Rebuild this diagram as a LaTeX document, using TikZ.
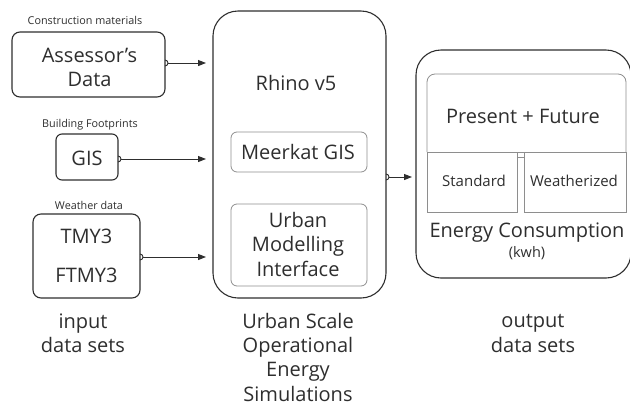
\documentclass[tikz,border=0pt]{standalone}
\usepackage{fontspec}
\setmainfont{Open Sans}
\usetikzlibrary{arrows.meta}
\definecolor{ink}{HTML}{2E2E2E}
\definecolor{soft}{HTML}{8E8E8E}
\begin{document}
\begin{tikzpicture}[x=1pt,y=-1pt,
  every node/.style={text=ink, inner sep=0pt, outer sep=0pt},
  box/.style={draw=ink, line width=1.1pt, rounded corners=#1},
  box/.default=8pt,
  sub/.style={draw=soft, line width=0.8pt},
  big/.style={font=\fontsize{20}{24.5}\selectfont, align=center},
  bigline/.style={font=\fontsize{20}{24.5}\selectfont, anchor=base},
  mid/.style={font=\fontsize{15}{18}\selectfont},
  small/.style={font=\fontsize{10.8}{13}\selectfont},
  link/.style={draw=ink, line width=1pt, -{Triangle[length=8pt,width=6pt]}},
  hop/.style={draw=ink, line width=0.9pt}
]
\useasboundingbox (0,0) rectangle (630,405);

% input boxes
\node[box, minimum width=153pt, minimum height=65pt] (ass) at (88.5,64.5) {};
\node[big] (asst) at (89.5,67.5) {Assessor’s\\Data};
\node[small] (cml) at (85,20) {Construction materials};

\node[box=6pt, minimum width=62pt, minimum height=46pt] (gis) at (87,157) {};
\node[big] (gist) at (87,158) {GIS};
\node[small] (bfl) at (90,125) {Building Footprints};

\node[box, minimum width=107pt, minimum height=84pt] (wea) at (86.5,256) {};
\node[big] (tmy) at (86.5,236) {TMY3};
\node[big] (ftmy) at (86.5,275) {FTMY3};
\node[small] (wdl) at (89,205) {Weather data};

\node[bigline] (inl1) at (83,328) {input};
\node[bigline] (inl2) at (83,352) {data sets};

% Rhino
\node[box=25pt, minimum width=173pt, minimum height=287pt] (rhino) at (299.5,154.5) {};
\node[big] (rhinot) at (296,83) {Rhino v5};
\node[sub, rounded corners=6pt, minimum width=136pt, minimum height=40pt] (meer) at (299,152) {};
\node[big] (meert) at (298,152) {Meerkat GIS};
\node[sub, rounded corners=6pt, minimum width=136pt, minimum height=82pt] (umi) at (299,245) {};
\node[big] (umit) at (298,244) {Urban\\Modelling\\Interface};
\node[bigline] (us1) at (298,328) {Urban Scale};
\node[bigline] (us2) at (298,352.3) {Operational};
\node[bigline] (us3) at (298,376.7) {Energy};
\node[bigline] (us4) at (298,401) {Simulations};

% Energy
\node[box=25pt, minimum width=215pt, minimum height=228pt] (en) at (523.5,164) {};
\draw[sub, rounded corners=8pt] (427,152) -- (427,74) -- (626,74) -- (626,152);
\draw[sub] (427,152) -- (626,152);
\node[sub, minimum width=90pt, minimum height=60pt] (std) at (472,182) {};
\node[sub, minimum width=102pt, minimum height=60pt] (wz) at (575,182) {};
\draw[sub] ([yshift=-5pt]std.north east) -- ([yshift=-5pt]wz.north west);
\node[big] (pft) at (523,116) {Present + Future};
\node[mid] (stdt) at (474,181) {Standard};
\node[mid] (wzt) at (574,181) {Weatherized};
\node[big] (ect) at (527,233) {Energy Consumption};
\node[font=\fontsize{14.5}{16}\selectfont] (kwh) at (527,253) {(kwh)};
\node[bigline] (out1) at (533,327.5) {output};
\node[bigline] (out2) at (533,352) {data sets};

% connectors
\coordinate (c1) at (ass.east |- 0,63);
\coordinate (c2) at (gis.east |- 0,159);
\coordinate (c3) at (wea.east |- 0,257);
\coordinate (c4) at (rhino.east |- 0,177);
\foreach \c in {c1,c2,c3,c4} {
  \draw[hop] ([yshift=-3pt]\c) arc[start angle=-90, end angle=90, radius=3pt];
}
\draw[link, shorten >=7pt] ([xshift=3pt]c1) -- (c1 -| rhino.west);
\draw[link, shorten >=7pt] ([xshift=3pt]c2) -- (c2 -| rhino.west);
\draw[link, shorten >=7pt] ([xshift=3pt]c3) -- (c3 -| rhino.west);
\draw[link, shorten >=4pt] ([xshift=3pt]c4) -- (c4 -| en.west);
\end{tikzpicture}
\end{document}
